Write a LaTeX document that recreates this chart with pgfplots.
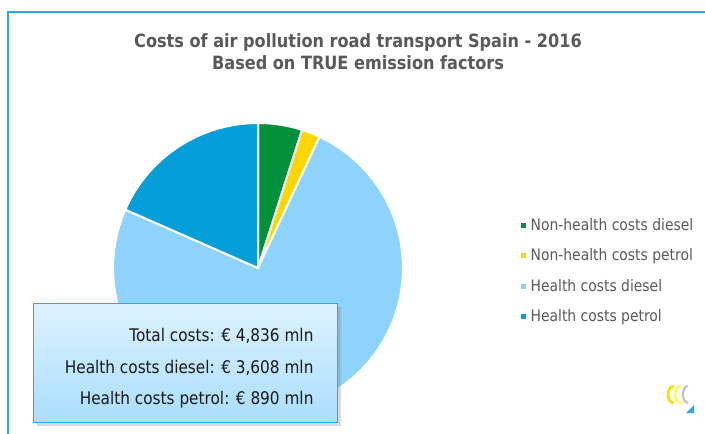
\documentclass[border=0pt]{standalone}
\usepackage{pgfplots}
\pgfplotsset{compat=1.18}
\usepackage{pgfplotstable}
\usetikzlibrary{shadows}
\usepackage{fontspec}
\setmainfont{DejaVu Sans}[FakeStretch=0.88]

\definecolor{frameblue}{HTML}{29ABE2}
\definecolor{titlegray}{HTML}{595959}
\definecolor{cNHdiesel}{HTML}{00913A}
\definecolor{cNHpetrol}{HTML}{FFD600}
\definecolor{cHdiesel}{HTML}{8DD3FD}
\definecolor{cHpetrol}{HTML}{049FD9}

% costs in mln euro (non-health split)
\pgfplotstableread{
name      value
NHdiesel  238
NHpetrol  100
Hdiesel   3608
Hpetrol   890
}\piedata

\pgfplotstablegetelem{0}{value}\of\piedata \let\vA\pgfplotsretval
\pgfplotstablegetelem{1}{value}\of\piedata \let\vB\pgfplotsretval
\pgfplotstablegetelem{2}{value}\of\piedata \let\vC\pgfplotsretval
\pgfplotstablegetelem{3}{value}\of\piedata \let\vD\pgfplotsretval
\pgfmathsetmacro\tot{\vA+\vB+\vC+\vD}
\pgfmathsetmacro\eA{360*(\vA/\tot)}
\pgfmathsetmacro\eB{\eA+360*(\vB/\tot)}
\pgfmathsetmacro\eC{\eB+360*(\vC/\tot)}

\begin{document}
\begin{tikzpicture}[x=1pt,y=-1pt]
\path[use as bounding box] (0,0) rectangle (705,434);
\draw[frameblue, line width=2pt] (8,440) -- (8,12) -- (710,12);

\node[titlegray, font=\bfseries\fontsize{18.3}{22}\selectfont, align=center, anchor=base]
  at (358,69) {Costs of air pollution road transport Spain - 2016\\Based on TRUE emission factors};

\begin{axis}[
  at={(258pt,-268pt)}, anchor=center,
  scale only axis, width=290pt, height=290pt,
  xmin=-1, xmax=1, ymin=-1, ymax=1,
  hide axis, clip=false,
  legend style={at={(1.405,0.49)}, anchor=west, draw=none, fill=none,
    font=\fontsize{15.8}{18}\selectfont, text=titlegray,
    row sep=13pt, inner sep=0pt,
    /tikz/every odd column/.append style={column sep=3pt}},
  legend cell align=left,
  legend image code/.code={\path[#1, draw=none] (0pt,-2.5pt) rectangle (5pt,2.5pt);},
  every axis plot/.append style={draw=white, line width=2pt, line join=round, samples=60, variable=\t},
]
\addplot[fill=cNHdiesel, domain=0:\eA] ({sin(t)},{cos(t)}) -- (0,0) -- cycle;
\addlegendentry{Non-health costs diesel}
\addplot[fill=cNHpetrol, domain=\eA:\eB] ({sin(t)},{cos(t)}) -- (0,0) -- cycle;
\addlegendentry{Non-health costs petrol}
\addplot[fill=cHdiesel, domain=\eB:\eC] ({sin(t)},{cos(t)}) -- (0,0) -- cycle;
\addlegendentry{Health costs diesel}
\addplot[fill=cHpetrol, domain=\eC:360] ({sin(t)},{cos(t)}) -- (0,0) -- cycle;
\addlegendentry{Health costs petrol}
\end{axis}

\node[draw=frameblue, line width=1.2pt, top color=cHdiesel!30, bottom color=cHdiesel!75,
  drop shadow={shadow xshift=3pt, shadow yshift=-3pt, opacity=0.3},
  minimum width=304pt, minimum height=119pt, anchor=north west] at (33,303) {};
\node[anchor=base east, font=\fontsize{17.4}{20}\selectfont, text=black!90] at (317,341) {Total costs: € 4,836 mln};
\node[anchor=base east, font=\fontsize{17.4}{20}\selectfont, text=black!90] at (317,373) {Health costs diesel: € 3,608 mln};
\node[anchor=base east, font=\fontsize{17.4}{20}\selectfont, text=black!90] at (317,404) {Health costs petrol: € 890 mln};

% small logo, bottom right
\draw[yellow!85!orange, line width=3pt] (674,403) arc[start angle=90, end angle=270, x radius=6, y radius=8.5];
\draw[yellow!60!white, line width=2.5pt] (681,403) arc[start angle=90, end angle=270, x radius=6, y radius=8.5];
\draw[gray!50, line width=2pt] (688,403) arc[start angle=90, end angle=270, x radius=5, y radius=8.5];
\fill[frameblue] (686,413) -- (694,413) -- (694,405) -- cycle;
\end{tikzpicture}
\end{document}
